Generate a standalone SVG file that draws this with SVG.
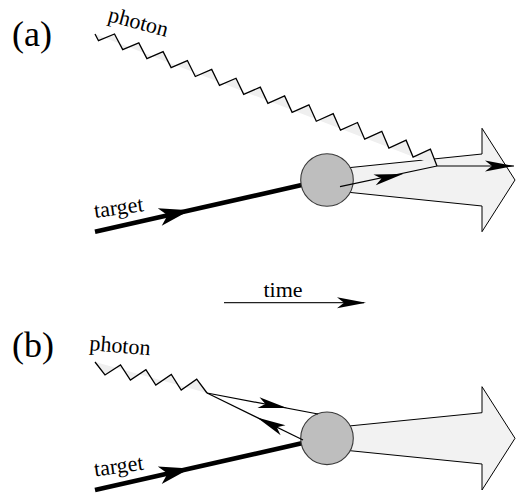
<svg xmlns="http://www.w3.org/2000/svg" xmlns:xlink="http://www.w3.org/1999/xlink" width="521" height="496" viewBox="0 0 521 496">
  <style>
    .lbl { font-family: "Liberation Serif", "Times New Roman", serif; fill: #000; }
    .tag { font-size: 36px; }
    .name { font-size: 22px; }
    .beam { fill: #f2f2f2; stroke: #000; stroke-width: 1; stroke-linejoin: miter; }
    .blob { fill: #bebebe; stroke: #3a3a3a; stroke-width: 1.1; }
    .wave-fill { fill: #efefef; stroke: none; }
    .wave { fill: none; stroke: #000; stroke-width: 1.3; stroke-linejoin: miter; }
    .thick { fill: none; stroke: #000; stroke-width: 4.6; stroke-linecap: butt; }
    .thin { fill: none; stroke: #000; stroke-width: 1.2; }
  </style>
  <defs>
    <!-- stealth arrowheads, tip at origin pointing along +x -->
    <path id="head-thin" d="M0,0 L-29,-5.5 L-22,0 L-29,5.5 Z" fill="#000"/>
    <path id="head-thick" d="M0,0 L-31,-9 L-23,0 L-31,9 Z" fill="#000"/>
    <!-- photon zigzags -->
    <polyline id="zig-a" points="95,34 98.5,40.7 114.5,34 122.7,49.65 138.8,42.85 146.9,58.6 163.1,51.7 171.1,67.55 187.4,60.55 195.3,76.5 211.7,69.4 219.5,85.45 236,78.25 243.7,94.4 260.3,87.1 267.9,103.35 284.6,95.95 292.1,112.3 308.9,104.8 316.3,121.25 333.2,113.65 340.5,130.2 357.5,122.5 364.7,139.15 381.8,131.35 388.9,148.1 406.1,140.2 413.1,157.05 430.4,149.05 437,166"/>
    <polyline id="zig-b" points="95,362 105,375 120.5,365 130.4,380 145.9,369.7 155.8,385 171.3,374.4 181.2,390 196.7,379.1 207,393"/>
  </defs>

  <rect width="521" height="496" fill="#fff"/>

  <!-- panel labels -->
  <text class="lbl tag" x="12" y="46">(a)</text>
  <text class="lbl tag" x="12" y="357">(b)</text>

  <!-- panel (a) -->
  <g id="a-outgoing">
    <polygon class="beam" points="340,168.6 482,154 482,128.3 515,180 482,231.7 482,206 340,191.4"/>
  </g>
  <g id="a-target">
    <line class="thick" x1="95" y1="231.7" x2="305" y2="184.3"/>
    <text class="lbl name" x="95" y="218" transform="rotate(-8 95 218)">target</text>
  </g>
  <g id="a-vertex">
    <circle class="blob" cx="327" cy="180" r="26.3"/>
  </g>
  <g id="a-photon">
    <use xlink:href="#zig-a" class="wave-fill"/>
    <use xlink:href="#zig-a" class="wave"/>
    <text class="lbl name" x="107" y="21" transform="rotate(15 107 21)">photon</text>
  </g>

  <!-- panel (b) -->
  <g id="b-outgoing">
    <polygon class="beam" points="340,426.9 482,412.7 482,386.7 515,438.3 482,490 482,464 340,449.7"/>
  </g>
  <g id="b-target">
    <line class="thick" x1="95" y1="490" x2="305" y2="442.6"/>
    <text class="lbl name" x="95" y="476.5" transform="rotate(-8 95 476.5)">target</text>
  </g>
  <g id="b-photon">
    <use xlink:href="#zig-b" class="wave-fill"/>
    <use xlink:href="#zig-b" class="wave"/>
    <text class="lbl name" x="89" y="350" transform="rotate(5 89 350)">photon</text>
  </g>
  <g id="b-vertex">
    <circle class="blob" cx="327" cy="438.3" r="26.3"/>
  </g>

  <!-- connectors -->
  <g id="connectors">
    <!-- (a) target arrowhead -->
    <use xlink:href="#head-thick" transform="translate(190 210.2) rotate(-12.7)"/>
    <!-- (a) scattered line out of the vertex -->
    <polyline class="thin" points="340,186.7 437,166 514,166"/>
    <use xlink:href="#head-thin" transform="translate(403 173.9) rotate(-12.1)"/>
    <use xlink:href="#head-thin" transform="translate(514 166)"/>

    <!-- time axis -->
    <line x1="224" y1="302.7" x2="364" y2="302.7" stroke="#222" stroke-width="1.3"/>
    <use xlink:href="#head-thin" transform="translate(366 302.7)"/>
    <text class="lbl name" x="283" y="296.7" text-anchor="middle">time</text>

    <!-- (b) target arrowhead -->
    <use xlink:href="#head-thick" transform="translate(190 468.5) rotate(-12.7)"/>
    <!-- (b) lines between photon end and vertex -->
    <line class="thin" x1="207" y1="393" x2="318" y2="414"/>
    <use xlink:href="#head-thin" transform="translate(287 408.1) rotate(10.7)"/>
    <line class="thin" x1="207" y1="393" x2="303" y2="440"/>
    <use xlink:href="#head-thin" transform="translate(257 417.5) rotate(206.1)"/>
  </g>
</svg>
